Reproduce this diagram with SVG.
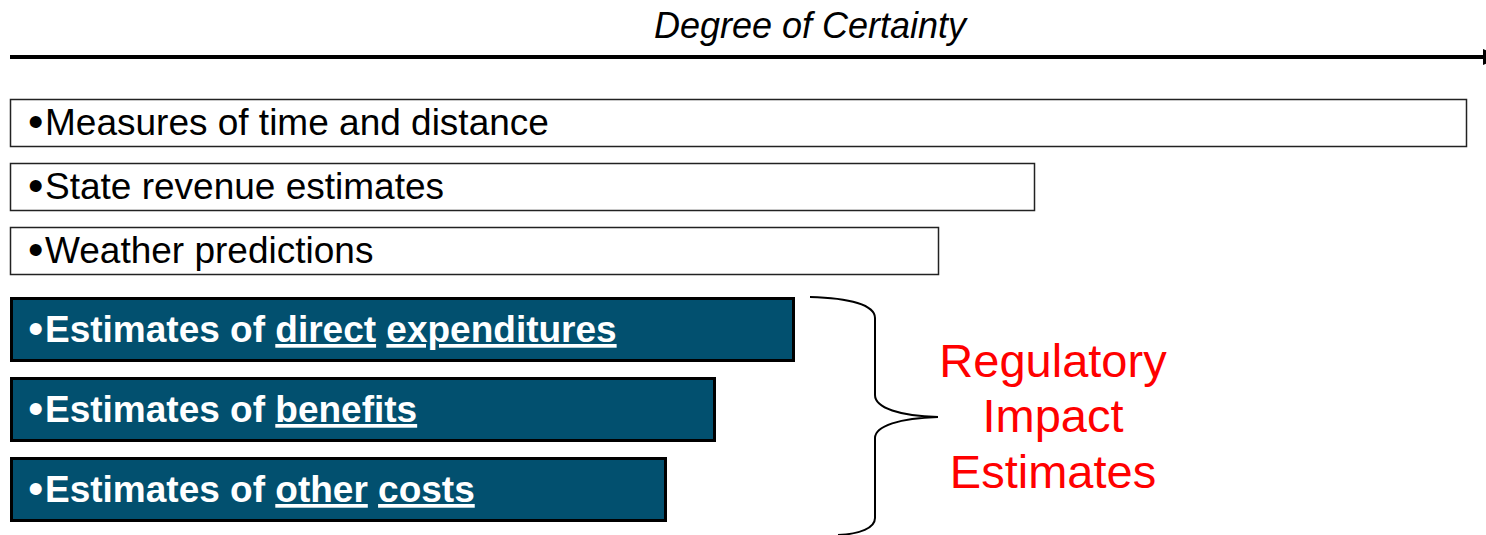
<svg xmlns="http://www.w3.org/2000/svg" width="1486" height="535" viewBox="0 0 1486 535">
<style>
.t{font-family:"Liberation Sans",Arial,sans-serif;font-size:37px;fill:#000}
.b{font-family:"Liberation Sans",Arial,sans-serif;font-size:37px;font-weight:bold;fill:#fff}
.bl{font-size:44px;font-weight:normal}
.u{text-decoration:underline}
.wbox{fill:#fff;stroke:#222;stroke-width:1.5}
.dbox{fill:#02506F;stroke:#000;stroke-width:3}
.red{font-family:"Liberation Sans",Arial,sans-serif;font-size:47px;fill:#FF0000;text-anchor:middle}
</style>
<defs>
<marker id="arr" markerUnits="userSpaceOnUse" markerWidth="20" markerHeight="20" refX="0" refY="10" orient="auto">
<path d="M0,2 L18,10 L0,18 Z" fill="#000"/>
</marker>
</defs>
<g id="axis">
<text x="810" y="38" class="t" font-style="italic" text-anchor="middle" style="font-size:36px">Degree of Certainty</text>
</g>
<g id="connectors">
<line x1="10" y1="57" x2="1483" y2="57" stroke="#000" stroke-width="4" marker-end="url(#arr)"/>
<path d="M810,297 C850,298 875,305 875,318 L875,395 C875,408 900,416 938,417 C900,418 875,426 875,438 L875,518 C875,528 860,534 838,535" fill="none" stroke="#000" stroke-width="2"/>
</g>
<g id="n1"><rect class="wbox" x="10.5" y="99.5" width="1456" height="47"/><text class="t" x="28" y="137"><tspan class="bl">•</tspan><tspan x="45" y="135">Measures of time and distance</tspan></text></g>
<g id="n2"><rect class="wbox" x="10.5" y="163.5" width="1024" height="47"/><text class="t" x="28" y="201"><tspan class="bl">•</tspan><tspan x="45" y="199">State revenue estimates</tspan></text></g>
<g id="n3"><rect class="wbox" x="10.5" y="227.5" width="928" height="47"/><text class="t" x="28" y="265"><tspan class="bl">•</tspan><tspan x="45" y="263">Weather predictions</tspan></text></g>
<g id="n4"><rect class="dbox" x="11.5" y="298.5" width="782" height="62"/><text class="b" x="28" y="344"><tspan class="bl">•</tspan><tspan x="45" y="342">Estimates of </tspan><tspan class="u">direct</tspan> <tspan class="u">expenditures</tspan></text></g>
<g id="n5"><rect class="dbox" x="11.5" y="378.5" width="703" height="62"/><text class="b" x="28" y="424"><tspan class="bl">•</tspan><tspan x="45" y="422">Estimates of </tspan><tspan class="u">benefits</tspan></text></g>
<g id="n6"><rect class="dbox" x="11.5" y="458.5" width="654" height="62"/><text class="b" x="28" y="504"><tspan class="bl">•</tspan><tspan x="45" y="502">Estimates of </tspan><tspan class="u">other</tspan> <tspan class="u">costs</tspan></text></g>
<g id="label">
<text class="red" x="1053" y="377">Regulatory</text>
<text class="red" x="1053" y="432">Impact</text>
<text class="red" x="1053" y="488">Estimates</text>
</g>
</svg>
